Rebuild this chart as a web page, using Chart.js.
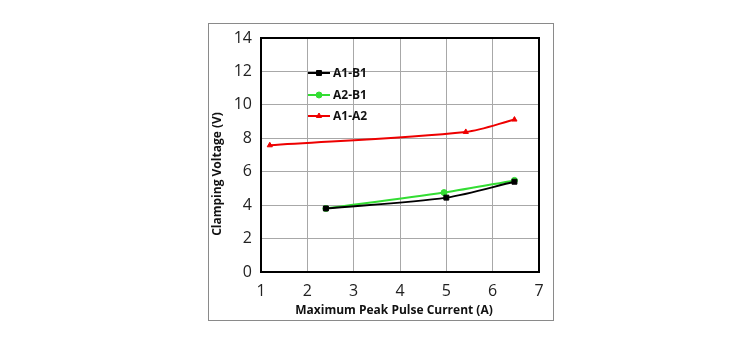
<!DOCTYPE html>
<html>
<head>
<meta charset="utf-8">
<script src="https://cdn.jsdelivr.net/npm/chart.js@4/dist/chart.umd.min.js"></script>
<style>
	html, body { margin: 0; padding: 0; background: #fff; }
	#wrap { width: 753px; height: 348px; }
</style>
</head>
<body>
<div id="wrap"><canvas id="clamp-chart" width="753" height="348"></canvas></div>
<script>
var seriesNames = ['A1-B1', 'A2-B1', 'A1-A2'];
var seriesColors = ['#000000', '#33dd33', '#ee0000'];
var seriesMarkers = ['rect', 'circle', 'triangle'];

var a1b1Current = [2.4, 5.0, 6.47];
var a1b1Voltage = [3.8, 4.45, 5.4];
var a2b1Current = [2.4, 4.95, 6.47];
var a2b1Voltage = [3.8, 4.75, 5.48];
var a1a2Current = [1.19, 5.42, 6.47];
var a1a2Voltage = [7.58, 8.38, 9.12];

var xTicks = [1, 2, 3, 4, 5, 6, 7];
var yTicks = [0, 2, 4, 6, 8, 10, 12, 14];

var xTitle = 'Maximum Peak Pulse Current (A)';
var yTitle = 'Clamping Voltage (V)';

function toPoints(xs, ys) {
	return xs.map(function(x, i) {
		return {x: x, y: ys[i]};
	});
}

var seriesPoints = [
	toPoints(a1b1Current, a1b1Voltage),
	toPoints(a2b1Current, a2b1Voltage),
	toPoints(a1a2Current, a1a2Voltage)
];

var datasets = seriesNames.map(function(name, i) {
	return {
		label: name,
		data: seriesPoints[i],
		showLine: true,
		borderColor: seriesColors[i],
		backgroundColor: seriesColors[i],
		borderWidth: 2,
		tension: 0.3,
		pointStyle: seriesMarkers[i],
		pointRadius: seriesMarkers[i] == 'rect' ? 3.5 : 3,
		pointBorderWidth: 1
	};
});

// outer frame, plot border and axis titles
var framePlugin = {
	id: 'frame',
	beforeDraw: function(chart) {
		var ctx = chart.ctx;
		ctx.save();
		ctx.strokeStyle = '#8a8a8a';
		ctx.lineWidth = 1;
		ctx.strokeRect(208.5, 23.5, 345, 297);
		ctx.restore();
	},
	afterDraw: function(chart) {
		var a = chart.chartArea, ctx = chart.ctx;
		ctx.save();
		ctx.strokeStyle = '#000';
		ctx.lineWidth = 2;
		ctx.strokeRect(a.left, a.top, a.right - a.left, a.bottom - a.top);

		ctx.fillStyle = '#111';
		ctx.font = 'bold 12px "Open Sans"';
		ctx.textAlign = 'center';
		ctx.textBaseline = 'middle';
		ctx.fillText(xTitle, 394, 311);

		ctx.translate(218, 174);
		ctx.rotate(-Math.PI / 2);
		ctx.fillText(yTitle, 0, 0);
		ctx.restore();
	}
};

// legend drawn inside the plot area
var innerLegend = {
	id: 'innerLegend',
	afterDraw: function(chart) {
		var ctx = chart.ctx,
			rows = [73, 95, 116];
		ctx.save();
		chart.data.datasets.forEach(function(ds, i) {
			var y = rows[i];
			ctx.strokeStyle = ds.borderColor;
			ctx.lineWidth = 2;
			ctx.beginPath();
			ctx.moveTo(308, y);
			ctx.lineTo(330, y);
			ctx.stroke();
			ctx.fillStyle = ds.borderColor;
			ctx.lineWidth = 1;
			Chart.helpers.drawPoint(ctx, {
				pointStyle: ds.pointStyle,
				radius: ds.pointRadius,
				borderWidth: 1,
				rotation: 0
			}, 319, y);
			ctx.fillStyle = '#111';
			ctx.font = 'bold 12px "Open Sans"';
			ctx.textBaseline = 'middle';
			ctx.fillText(ds.label, 333, y + 1);
		});
		ctx.restore();
	}
};

new Chart(document.getElementById('clamp-chart'), {
	type: 'scatter',
	data: {datasets: datasets},
	plugins: [framePlugin, innerLegend],
	options: {
		responsive: false,
		animation: false,
		layout: {
			padding: {left: 208, top: 38, right: 214, bottom: 28}
		},
		plugins: {
			legend: {display: false},
			tooltip: {enabled: false}
		},
		scales: {
			x: {
				type: 'linear',
				min: 1,
				max: 7,
				afterFit: function(scale) {
					scale.height = 48;
				},
				afterBuildTicks: function(scale) {
					scale.ticks = xTicks.map(function(v) { return {value: v}; });
				},
				grid: {color: '#a8a8a8', lineWidth: 1, drawTicks: false},
				border: {display: false},
				ticks: {
					padding: 10,
					color: '#222',
					font: {family: 'Open Sans', size: 16}
				}
			},
			y: {
				min: 0,
				max: 14,
				afterFit: function(scale) {
					scale.width = 53;
				},
				afterBuildTicks: function(scale) {
					scale.ticks = yTicks.map(function(v) { return {value: v}; });
				},
				grid: {color: '#a8a8a8', lineWidth: 1, drawTicks: false},
				border: {display: false},
				ticks: {
					padding: 9,
					color: '#222',
					font: {family: 'Open Sans', size: 16}
				}
			}
		}
	}
});
</script>
</body>
</html>
